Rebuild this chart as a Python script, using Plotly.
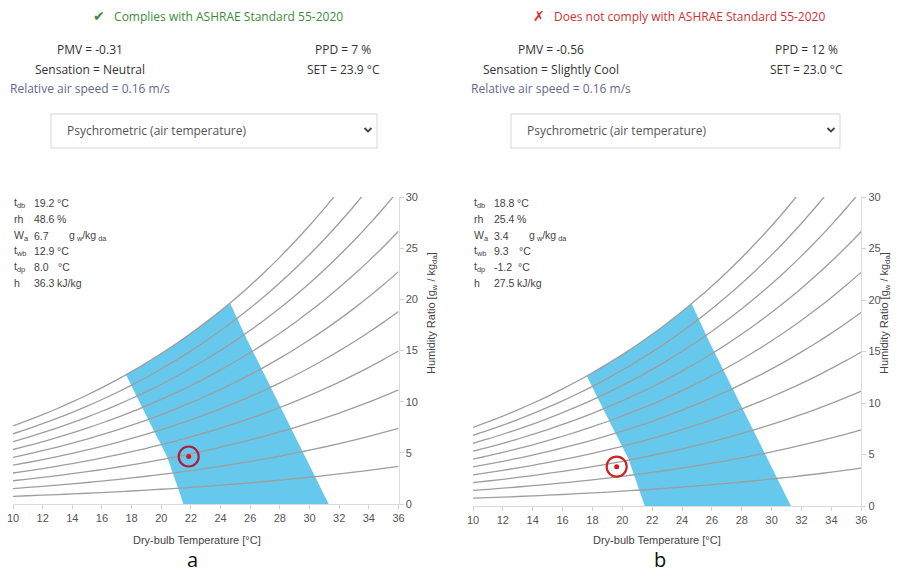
import plotly.graph_objects as go

W_PX, H_PX = 905, 572

# ---------------- data ----------------
# saturation vapour pressure table (kPa) at dry-bulb temperatures 10..36 °C
temps = [10, 11, 12, 13, 14, 15, 16, 17, 18, 19, 20, 21, 22, 23, 24, 25, 26, 27, 28, 29, 30, 31, 32, 33, 34, 35, 36]
psat_kpa = [1.2282, 1.3130, 1.4028, 1.4981, 1.5990, 1.7058, 1.8188, 1.9384, 2.0647, 2.1983, 2.3393,
            2.4882, 2.6453, 2.8111, 2.9858, 3.1699, 3.3639, 3.5681, 3.7831, 4.0092, 4.2470, 4.4969,
            4.7596, 5.0354, 5.3251, 5.6290, 5.9479]
rh_levels = [0.1, 0.2, 0.3, 0.4, 0.5, 0.6, 0.7, 0.8, 0.9, 1.0]
p_atm = 101.325

# comfort zone outline (dry-bulb °C, humidity ratio g/kg)
zone_t = [21.5, 20.9, 20.4, 19.0, 17.63, 18, 19, 20, 21, 22, 23, 24, 24.65, 25.78, 31.29]
zone_w = [0.0, 2.4, 4.6, 8.6, 12.6, 12.94, 13.79, 14.70, 15.66, 16.67, 17.75, 18.88, 19.6, 16.08, 0.0]

# current condition markers
point_a = (21.85, 4.64)
point_b = (19.62, 3.82)

x_ticks = [10, 12, 14, 16, 18, 20, 22, 24, 26, 28, 30, 32, 34, 36]
y_ticks = [0, 5, 10, 15, 20, 25, 30]

info_labels = ["t<sub>db</sub>", "rh", "W<sub>a</sub>", "t<sub>wb</sub>", "t<sub>dp</sub>", "h"]
info_units = ["°C", "%", "g<sub> w</sub>/kg<sub> da</sub>", "°C", "°C", "kJ/kg"]
values_a = ["19.2", "48.6", "6.7", "12.9", "8.0", "36.3"]
values_b = ["18.8", "25.4", "3.4", "9.3", "-1.2", "27.5"]

panels = {
    "a": {
        "status": "Complies with ASHRAE Standard 55-2020", "ok": True,
        "pmv": "PMV = -0.31", "sens": "Sensation = Neutral", "ppd": "PPD = 7 %", "set": "SET = 23.9 °C",
        "speed": "Relative air speed = 0.16 m/s",
        "values": values_a, "unit_x": [55, 55, 67, 55, 56, 55],
        "point": point_a,
    },
    "b": {
        "status": "Does not comply with ASHRAE Standard 55-2020", "ok": False,
        "pmv": "PMV = -0.56", "sens": "Sensation = Slightly Cool", "ppd": "PPD = 12 %", "set": "SET = 23.0 °C",
        "speed": "Relative air speed = 0.16 m/s",
        "values": values_b, "unit_x": [55, 55, 67, 57, 56, 55],
        "point": point_b,
    },
}

# humidity ratio table for each RH line (g/kg)
def hum_ratio(rh):
    return [622 * rh * p / (p_atm - rh * p) for p in psat_kpa]

# ---------------- layout geometry (pixels) ----------------
geo = {
    "a": dict(x0=13, x1=398.5, y0=504, y1=197, xs="x", ys="y", off=0),
    "b": dict(x0=473, x1=861.3, y0=506, y1=197, xs="x2", ys="y2", off=460),
}

def px(x):
    return x / W_PX

def py(y):
    return 1 - y / H_PX

fig = go.Figure()
annotations = []
shapes = []
HDR_FONT = "Open Sans, Segoe UI, sans-serif"
CH_FONT = "Arial, Liberation Sans, sans-serif"

for key, p in panels.items():
    g = geo[key]
    # comfort zone
    fig.add_trace(go.Scatter(x=zone_t, y=zone_w, xaxis=g["xs"], yaxis=g["ys"], mode="lines",
                             fill="toself", fillcolor="rgb(102,200,236)", line=dict(width=0),
                             hoverinfo="skip", showlegend=False))
    # RH curves
    for rh in rh_levels:
        fig.add_trace(go.Scatter(x=temps, y=hum_ratio(rh), xaxis=g["xs"], yaxis=g["ys"], mode="lines",
                                 line=dict(color="rgb(158,158,158)", width=1.3, shape="spline"),
                                 hoverinfo="skip", showlegend=False))
    # marker
    ring_col = "rgb(175,30,60)" if key == "a" else "rgb(205,35,35)"
    fig.add_trace(go.Scatter(x=[p["point"][0]], y=[p["point"][1]], xaxis=g["xs"], yaxis=g["ys"], mode="markers",
                             marker=dict(symbol="circle-open", size=20, color=ring_col,
                                         line=dict(color=ring_col, width=2.2)),
                             showlegend=False))
    fig.add_trace(go.Scatter(x=[p["point"][0]], y=[p["point"][1]], xaxis=g["xs"], yaxis=g["ys"], mode="markers",
                             marker=dict(symbol="circle", size=5, color="rgb(220,20,30)",
                                         line=dict(width=0)),
                             showlegend=False))

    # header
    cx = 218 if key == "a" else 679
    col = "rgb(60,140,60)" if p["ok"] else "rgb(205,50,50)"
    sym = "✔" if p["ok"] else "✗"
    annotations.append(dict(x=px(cx), y=py(16), xref="paper", yref="paper", showarrow=False,
                            text=f"<span style='font-size:14px;font-family:DejaVu Sans'>{sym}</span>&nbsp;&nbsp; {p['status']}",
                            font=dict(family=HDR_FONT, size=12, color=col), xanchor="center", yanchor="middle"))
    lx = 90 if key == "a" else 551
    rx = 343 if key == "a" else 806
    for txt, xx, yy, c in [(p["pmv"], lx, 50, "#333"), (p["sens"], lx, 69, "#333"),
                           (p["speed"], lx, 88, "rgb(95,105,145)"),
                           (p["ppd"], rx, 50, "#333"), (p["set"], rx, 69, "#333")]:
        annotations.append(dict(x=px(xx), y=py(yy), xref="paper", yref="paper", showarrow=False, text=txt,
                                font=dict(family=HDR_FONT, size=12, color=c), xanchor="center", yanchor="middle"))
    # dropdown box
    bx0, bx1 = (51, 377) if key == "a" else (511, 840)
    shapes.append(dict(type="rect", xref="paper", yref="paper", x0=px(bx0), x1=px(bx1), y0=py(148), y1=py(114),
                       line=dict(color="rgb(215,215,215)", width=1), fillcolor="white", layer="below"))
    annotations.append(dict(x=px(bx0 + 14), y=py(130), xref="paper", yref="paper", showarrow=False,
                            text="Psychrometric (air temperature)", xanchor="left", yanchor="middle",
                            font=dict(family=HDR_FONT, size=12, color="#555")))
    chx = bx1 - 9
    shapes.append(dict(type="path", xref="paper", yref="paper",
                       path=f"M {px(chx-3.5)} {py(128)} L {px(chx)} {py(131.5)} L {px(chx+3.5)} {py(128)}",
                       line=dict(color="#444", width=1.8)))

    # info block
    rows = [203, 219, 236, 251, 267, 283]
    for lab, val, unit, ux, yy in zip(info_labels, p["values"], info_units, p["unit_x"], rows):
        for txt, xx in [(lab, 12), (val, 32), (unit, ux)]:
            annotations.append(dict(x=px(xx + g["off"]), y=py(yy), xref="paper", yref="paper", showarrow=False,
                                    text=txt, xanchor="left", yanchor="middle",
                                    font=dict(family=CH_FONT, size=10.5, color="#444")))
    # axis titles and panel letters
    xt = 197 if key == "a" else 657
    annotations.append(dict(x=px(xt), y=py(540), xref="paper", yref="paper", showarrow=False,
                            text="Dry-bulb Temperature [°C]", xanchor="center", yanchor="middle",
                            font=dict(family=CH_FONT, size=11, color="#444")))
    annotations.append(dict(x=px(xt - 5 if key == "a" else xt + 3), y=py(559), xref="paper", yref="paper",
                            showarrow=False, text=key, xanchor="center", yanchor="middle",
                            font=dict(family=HDR_FONT, size=20, color="#111")))
    yt = 432 if key == "a" else 885
    annotations.append(dict(x=px(yt), y=py(313), xref="paper", yref="paper", showarrow=False, textangle=-90,
                            text="Humidity Ratio [g<sub>w</sub> / kg<sub>da</sub>]", xanchor="center",
                            yanchor="middle", font=dict(family=CH_FONT, size=11, color="#444")))

axis_common = dict(showgrid=False, zeroline=False, showline=True, linecolor="rgb(220,220,220)", linewidth=1,
                   ticks="outside", ticklen=4, tickcolor="rgb(210,210,210)", automargin=False,
                   tickfont=dict(family=CH_FONT, size=11, color="#555"), fixedrange=True)

layout = dict(width=W_PX, height=H_PX, autosize=False, margin=dict(l=0, r=0, t=0, b=0, pad=0),
              paper_bgcolor="white", plot_bgcolor="white", showlegend=False,
              annotations=annotations, shapes=shapes)
for key, g in geo.items():
    xn = "xaxis" if key == "a" else "xaxis2"
    yn = "yaxis" if key == "a" else "yaxis2"
    layout[xn] = dict(axis_common, domain=[px(g["x0"]), px(g["x1"])], range=[10, 36], tickvals=x_ticks,
                      anchor=g["ys"])
    layout[yn] = dict(axis_common, domain=[py(g["y0"]), py(g["y1"])], range=[0, 30], tickvals=y_ticks,
                      side="right", anchor=g["xs"])
fig.update_layout(**layout)
fig.write_html("out.html", config={"displayModeBar": False},
               post_script="document.body.style.margin='0';document.body.style.padding='0';"
                           "document.body.style.overflow='hidden';")
